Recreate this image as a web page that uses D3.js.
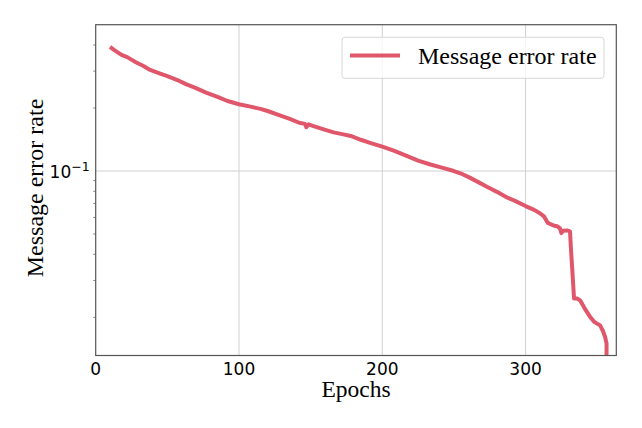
<!doctype html>
<html lang="en">
<head>
<meta charset="utf-8">
<script src="https://cdn.jsdelivr.net/npm/d3@7"></script>
<style>
  body { margin: 0; background: #fff; }
  svg { display: block; }
</style>
</head>
<body>
<svg width="642" height="428"></svg>
<script>

var epochs = [10, 13, 18, 22, 28, 33, 38, 45, 50, 57, 63, 70, 77, 85, 92, 100, 108, 115, 120, 127,
  135, 142, 146, 147, 148.5, 152, 158, 166, 172, 178, 185, 192, 200, 208, 217, 225, 233, 241, 250, 256,
  261, 267, 273, 280, 287, 293, 300, 306, 310, 313, 315.5, 318, 320, 322, 324, 325, 326, 329, 331, 331.8,
  332.5, 333.3, 333.8, 336, 338, 341, 345, 348, 352, 354, 355.5, 356.5, 356.5];
var errorRate = [0.392, 0.378, 0.359, 0.350, 0.331, 0.318, 0.304, 0.292, 0.284, 0.272, 0.260, 0.249, 0.237, 0.226, 0.216, 0.2085, 0.203, 0.198, 0.1935, 0.186,
  0.178, 0.170, 0.168, 0.162, 0.167, 0.164, 0.159, 0.153, 0.150, 0.147, 0.141, 0.136, 0.1307, 0.125, 0.118, 0.112, 0.1077, 0.104, 0.100, 0.0965,
  0.093, 0.0885, 0.0841, 0.0795, 0.0748, 0.0718, 0.068, 0.0652, 0.0628, 0.0605, 0.0565, 0.0555, 0.0548, 0.0545, 0.0532, 0.0505, 0.0519, 0.0520, 0.0515, 0.041,
  0.0345, 0.028, 0.0246, 0.0246, 0.0241, 0.0222, 0.0201, 0.0190, 0.0183, 0.0172, 0.0161, 0.0150, 0.010];
var xTicks = [0, 100, 200, 300];
var yMinor = [0.02, 0.03, 0.04, 0.05, 0.06, 0.07, 0.08, 0.09, 0.2, 0.3, 0.4];
var seriesName = "Message error rate";

var svg = d3.select("svg"),
    m = {left: 95.7, right: 616.3, top: 24.7, bottom: 355.5},
    color = "#e0576b";

var x = d3.scaleLinear().domain([0, 363.3]).range([m.left, m.right]);
var y = d3.scaleLog().domain([0.01314, 0.5]).range([m.bottom, m.top]);

// grid
svg.append("g").selectAll("line").data(xTicks.slice(1)).join("line")
    .attr("x1", d => x(d)).attr("x2", d => x(d))
    .attr("y1", m.top).attr("y2", m.bottom)
    .attr("stroke", "#d0d0d0").attr("stroke-width", 1);
svg.append("line")
    .attr("x1", m.left).attr("x2", m.right)
    .attr("y1", y(0.1)).attr("y2", y(0.1))
    .attr("stroke", "#d0d0d0").attr("stroke-width", 1);

// minor ticks on y
svg.append("g").selectAll("line").data(yMinor).join("line")
    .attr("x1", m.left - 2.5).attr("x2", m.left)
    .attr("y1", d => y(d)).attr("y2", d => y(d))
    .attr("stroke", "#555").attr("stroke-width", 0.7);

// line
svg.append("clipPath").attr("id", "clip")
  .append("rect").attr("x", m.left).attr("y", m.top)
    .attr("width", m.right - m.left).attr("height", m.bottom - m.top);

var line = d3.line()
    .x((d, i) => x(epochs[i]))
    .y(d => y(d));

svg.append("path")
    .datum(errorRate)
    .attr("clip-path", "url(#clip)")
    .attr("fill", "none")
    .attr("stroke", color)
    .attr("stroke-width", 4)
    .attr("stroke-linejoin", "round")
    .attr("d", line);

// frame
svg.append("rect")
    .attr("x", m.left).attr("y", m.top)
    .attr("width", m.right - m.left).attr("height", m.bottom - m.top)
    .attr("fill", "none").attr("stroke", "#555").attr("stroke-width", 1.2);

// tick labels
svg.append("g").selectAll("text").data(xTicks).join("text")
    .attr("x", d => x(d)).attr("y", m.bottom + 19.5)
    .attr("text-anchor", "middle")
    .attr("font-family", "DejaVu Sans").attr("font-size", 17)
    .text(d => d);

var yl = svg.append("text")
    .attr("x", m.left - 6).attr("y", y(0.1) + 6.5)
    .attr("text-anchor", "end")
    .attr("font-family", "DejaVu Sans").attr("font-size", 17);
yl.append("tspan").text("10");
yl.append("tspan").attr("dy", -7).attr("font-size", 12.5).text("\u22121");

// axis titles
svg.append("text")
    .attr("x", (m.left + m.right) / 2).attr("y", 397)
    .attr("text-anchor", "middle")
    .attr("font-family", "Liberation Serif").attr("font-size", 23.5)
    .text("Epochs");

svg.append("text")
    .attr("transform", "translate(43,188) rotate(-90)")
    .attr("text-anchor", "middle")
    .attr("font-family", "Liberation Serif").attr("font-size", 24)
    .text("Message error rate");

// legend
var lg = svg.append("g");
lg.append("rect")
    .attr("x", 342).attr("y", 37.3).attr("width", 262).attr("height", 41)
    .attr("rx", 3)
    .attr("fill", "#fff").attr("fill-opacity", 0.8)
    .attr("stroke", "#d8d8d8").attr("stroke-width", 1);
lg.append("line")
    .attr("x1", 350).attr("x2", 400).attr("y1", 55.5).attr("y2", 55.5)
    .attr("stroke", color).attr("stroke-width", 4);
lg.append("text")
    .attr("x", 418).attr("y", 64)
    .attr("font-family", "Liberation Serif").attr("font-size", 24)
    .text(seriesName);

</script>
</body>
</html>
